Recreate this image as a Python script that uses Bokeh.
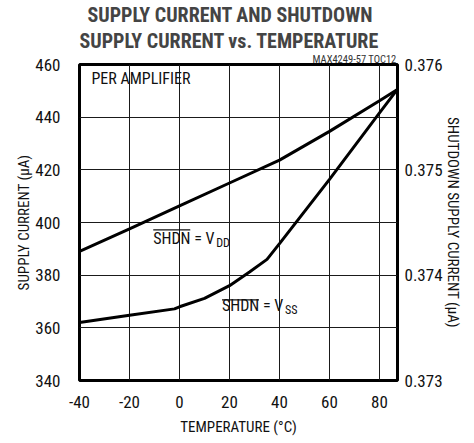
from bokeh.plotting import figure
from bokeh.models import Range1d, LinearAxis, FixedTicker, Title, Label
from bokeh.embed import file_html
from bokeh.resources import INLINE

# ---- data ----
temp_vdd = [-40, -20, 0, 20, 40, 60, 80, 87]
supply_vdd = [389.0, 397.6, 406.3, 415.0, 423.7, 434.6, 446.2, 450.4]   # uA, left axis

temp_vss = [-40, -20, -2, 0, 10, 20, 28, 35, 40, 60, 80, 87]
shdn_vss = [0.37355, 0.37362, 0.37368, 0.37370, 0.37378, 0.37390,
            0.37403, 0.37415, 0.37430, 0.37491, 0.37554, 0.37576]          # uA, right axis

x_ticks = [-40, -20, 0, 20, 40, 60, 80]
x_tick_labels = ["-40", "-20", "0", "20", "40", "60", "80"]
y_ticks = [340, 360, 380, 400, 420, 440, 460]
y2_ticks = [0.373, 0.374, 0.375, 0.376]

X_MIN, X_MAX = -40, 87.2
Y_MIN, Y_MAX = 340, 460

FONT = "'Liberation Sans Narrow', 'Roboto Condensed', 'DejaVu Sans Condensed', sans-serif"
INK = "#111111"

p = figure(width=474, height=443, output_backend="svg", toolbar_location=None,
           x_range=Range1d(X_MIN, X_MAX), y_range=Range1d(Y_MIN, Y_MAX),
           min_border_left=79, min_border_right=77, min_border_top=63,
           min_border_bottom=63)
p.extra_y_ranges = {"shdn": Range1d(0.373, 0.376)}

# frame
p.outline_line_color = "black"
p.outline_line_width = 3
p.background_fill_color = "white"
p.border_fill_color = "white"

# grids
p.xgrid.ticker = FixedTicker(ticks=x_ticks)
p.ygrid.ticker = FixedTicker(ticks=y_ticks)
for g in (p.xgrid, p.ygrid):
    g.grid_line_color = "#1a1a1a"
    g.grid_line_width = 1

# axes
p.xaxis.ticker = FixedTicker(ticks=x_ticks)
p.xaxis.major_label_overrides = {t: s for t, s in zip(x_ticks, x_tick_labels)}
p.yaxis.ticker = FixedTicker(ticks=y_ticks)
p.xaxis.axis_label = "TEMPERATURE (°C)"
p.yaxis.axis_label = "SUPPLY CURRENT (μA)"

right = LinearAxis(y_range_name="shdn", ticker=FixedTicker(ticks=y2_ticks),
                   axis_label="SHUTDOWN SUPPLY CURRENT (μA)")
p.add_layout(right, "right")

for ax in (p.xaxis[0], p.yaxis[0], right):
    ax.axis_line_color = None
    ax.major_tick_line_color = None
    ax.minor_tick_line_color = None
    ax.major_label_text_font = FONT
    ax.major_label_text_font_size = "17px"
    ax.major_label_text_color = INK
    ax.axis_label_text_font = FONT
    ax.axis_label_text_font_size = "15px"
    ax.axis_label_text_font_style = "normal"
    ax.axis_label_text_color = INK

p.xaxis.major_label_standoff = 9
p.xaxis.axis_label_standoff = 7
p.yaxis.major_label_standoff = 13
p.yaxis.axis_label_standoff = -1
right.major_label_standoff = 1
right.axis_label_standoff = -2

# curves
p.line(temp_vdd, supply_vdd, line_color="black", line_width=3)
p.line(temp_vss, shdn_vss, line_color="black", line_width=3, y_range_name="shdn")

# titles (added nearest-first)
note = Title(text="MAX4249-57 TOC12", align="right", text_font=FONT,
             text_font_size="10.5px", text_font_style="normal", text_color="#333333",
             standoff=-3, offset=1)
p.add_layout(note, "above")
t2 = Title(text="SUPPLY CURRENT vs. TEMPERATURE", align="left", text_font=FONT,
           text_font_size="20px", text_font_style="bold", standoff=0, offset=0)
p.add_layout(t2, "above")
t1 = Title(text="SUPPLY CURRENT AND SHUTDOWN", align="left", text_font=FONT,
           text_font_size="20px", text_font_style="bold", standoff=0, offset=8)
p.add_layout(t1, "above")

def lab(x, y, text, size, **kw):
    p.add_layout(Label(x=x, y=y, text=text, text_font=FONT, text_color=INK,
                       text_font_size=size, **kw))

# in-plot annotations
lab(-35.2, 451.2, "PER AMPLIFIER", "16px")

lab(-10.5, 390.5, "SHDN = V", "16px")
lab(-10.5, 390.5, "DD", "12px", x_offset=63, y_offset=-2)
lab(17.0, 364.7, "SHDN = V", "16px")
lab(17.0, 364.7, "SS", "12px", x_offset=63, y_offset=-2)

# overlines on SHDN
p.segment(x0=[-10.5, 17.0], y0=[397.2, 370.6], x1=[-10.5 + 14.8, 17.0 + 14.8],
          y1=[397.2, 370.6], line_color=INK, line_width=1.2)

open("out.html", "w").write(file_html(p, INLINE))
